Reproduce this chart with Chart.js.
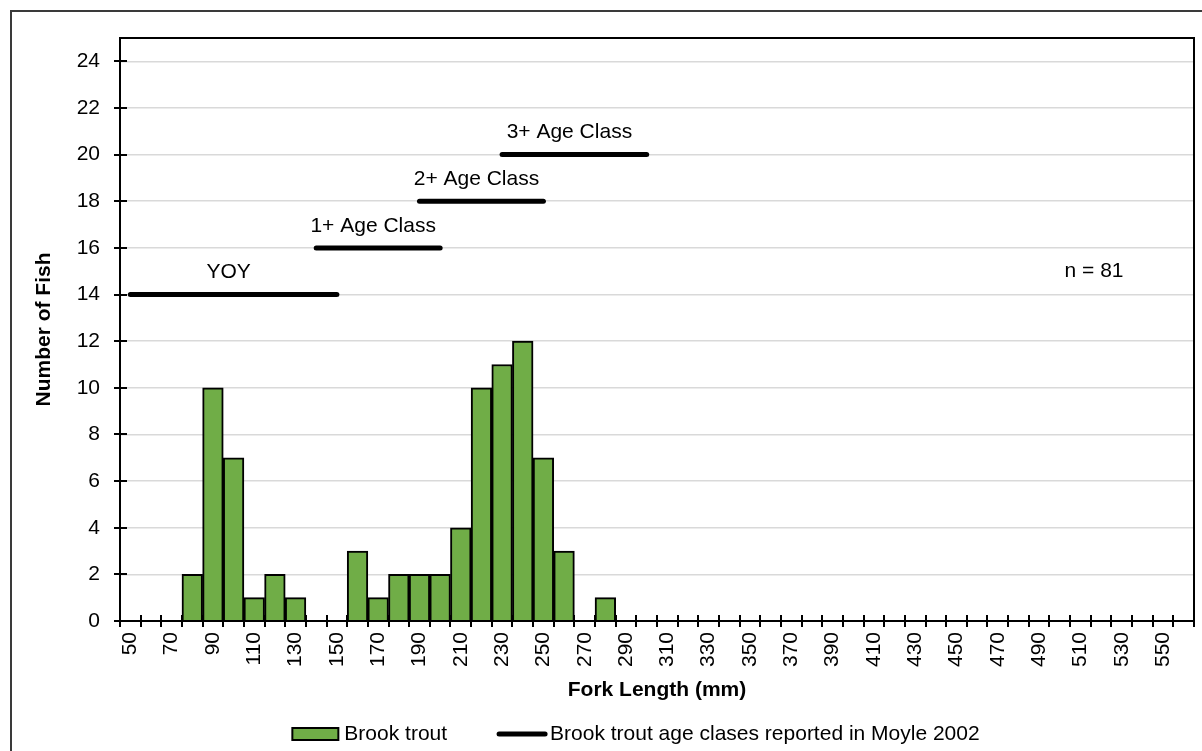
<!DOCTYPE html>
<html>
<head>
<meta charset="utf-8">
<script src="https://cdn.jsdelivr.net/npm/chart.js@4.4.1/dist/chart.umd.min.js"></script>
<style>
  html, body { margin: 0; padding: 0; background: #fff; overflow: hidden; }
  #wrap { position: relative; width: 1202px; height: 751px; }
</style>
</head>
<body>
<div id="wrap"><canvas id="chart"></canvas></div>
<script>
// Fork length bins (mm)
const lengthBins = ['50', '60', '70', '80', '90', '100', '110', '120', '130', '140',
  '150', '160', '170', '180', '190', '200', '210', '220', '230', '240',
  '250', '260', '270', '280', '290', '300', '310', '320', '330', '340',
  '350', '360', '370', '380', '390', '400', '410', '420', '430', '440',
  '450', '460', '470', '480', '490', '500', '510', '520', '530', '540',
  '550', '560'];

// Number of brook trout in each bin
const brookTroutCounts = [0, 0, 0, 2, 10, 7, 1, 2, 1, 0,
  0, 3, 1, 2, 2, 2, 4, 10, 11, 12,
  7, 3, 0, 1, 0, 0, 0, 0, 0, 0,
  0, 0, 0, 0, 0, 0, 0, 0, 0, 0,
  0, 0, 0, 0, 0, 0, 0, 0, 0, 0,
  0, 0];

// Age classes reported in Moyle 2002
const ageClassNames = ['YOY', '1+ Age Class', '2+ Age Class', '3+ Age Class'];
const ageClassFrom = ['50', '140', '190', '230'];
const ageClassTo = ['150', '200', '250', '300'];
const ageClassLevel = [14, 16, 18, 20];

const yTicks = [0, 2, 4, 6, 8, 10, 12, 14, 16, 18, 20, 22, 24];
const sampleNote = 'n = 81';

const FONT = "'Liberation Sans', Arial, sans-serif";
const BAR_GREEN = '#70AD47';

const ageDatasets = ageClassNames.map((name, i) => ({
  type: 'line',
  label: 'Brook trout age clases reported in Moyle 2002',
  data: [{ x: ageClassFrom[i], y: ageClassLevel[i] }, { x: ageClassTo[i], y: ageClassLevel[i] }],
  borderColor: '#000',
  borderWidth: 5,
  borderCapStyle: 'round',
  pointRadius: 0,
  fill: false,
  order: 0
}));

// frame, crossing tick marks, text labels and legend
const decorations = {
  id: 'decorations',
  beforeDraw(chart) {
    const ctx = chart.ctx;
    ctx.save();
    ctx.strokeStyle = '#3a3a3a';
    ctx.lineWidth = 2;
    ctx.beginPath();
    ctx.moveTo(11, chart.height);
    ctx.lineTo(11, 11);
    ctx.lineTo(chart.width, 11);
    ctx.stroke();
    ctx.restore();
  },
  afterDraw(chart) {
    const ctx = chart.ctx;
    const area = chart.chartArea;
    const xs = chart.scales.x;
    const ys = chart.scales.y;
    ctx.save();

    // plot frame
    ctx.strokeStyle = '#000';
    ctx.lineWidth = 2;
    ctx.strokeRect(area.left, area.top, area.right - area.left, area.bottom - area.top);

    // y ticks
    yTicks.forEach(v => {
      const y = Math.round(ys.getPixelForValue(v));
      ctx.beginPath();
      ctx.moveTo(area.left - 6, y);
      ctx.lineTo(area.left + 7, y);
      ctx.stroke();
    });

    // x ticks at bin boundaries
    const half = (xs.getPixelForValue(1) - xs.getPixelForValue(0)) / 2;
    for (let i = 0; i <= lengthBins.length; i++) {
      const x = Math.round(xs.getPixelForValue(i) - half);
      ctx.beginPath();
      ctx.moveTo(x, area.bottom - 6);
      ctx.lineTo(x, area.bottom + 6);
      ctx.stroke();
    }

    // age class names
    ctx.fillStyle = '#000';
    ctx.font = '21px ' + FONT;
    ctx.textAlign = 'center';
    ctx.textBaseline = 'middle';
    ageClassNames.forEach((name, i) => {
      const x = (xs.getPixelForValue(lengthBins.indexOf(ageClassFrom[i])) +
                 xs.getPixelForValue(lengthBins.indexOf(ageClassTo[i]))) / 2 - 5;
      const y = ys.getPixelForValue(ageClassLevel[i]) - 22;
      ctx.fillText(name, x, y);
    });
    ctx.fillText(sampleNote, area.right - 100, ys.getPixelForValue(15));

    // legend
    const bar = chart.data.datasets[0];
    const line = chart.data.datasets[1];
    const ly = 734;
    ctx.textAlign = 'left';
    const w1 = ctx.measureText(bar.label).width;
    const w2 = ctx.measureText(line.label).width;
    const total = 46 + 6 + w1 + 50 + 50 + 3 + w2;
    let lx = (area.left + area.right) / 2 - 21 - total / 2;
    ctx.fillStyle = bar.backgroundColor;
    ctx.fillRect(lx, ly - 6, 46, 12);
    ctx.strokeStyle = '#000';
    ctx.lineWidth = 2;
    ctx.strokeRect(lx, ly - 6, 46, 12);
    lx += 52;
    ctx.fillStyle = '#000';
    ctx.fillText(bar.label, lx, ly);
    lx += w1 + 50;
    ctx.lineWidth = 5;
    ctx.lineCap = 'round';
    ctx.beginPath();
    ctx.moveTo(lx + 2, ly);
    ctx.lineTo(lx + 48, ly);
    ctx.stroke();
    ctx.fillText(line.label, lx + 53, ly);

    ctx.restore();
  }
};

new Chart(document.getElementById('chart'), {
  type: 'bar',
  data: {
    labels: lengthBins,
    datasets: [{
      label: 'Brook trout',
      data: brookTroutCounts,
      backgroundColor: BAR_GREEN,
      borderColor: '#000',
      borderWidth: 2,
      barPercentage: 1,
      categoryPercentage: 1,
      order: 1
    }].concat(ageDatasets)
  },
  options: {
    responsive: true,
    maintainAspectRatio: false,
    animation: false,
    events: [],
    layout: { padding: { top: 38, right: 8, bottom: 45, left: 0 } },
    plugins: {
      legend: { display: false },
      tooltip: { enabled: false }
    },
    scales: {
      x: {
        type: 'category',
        offset: true,
        grid: { display: false, drawTicks: false, offset: true },
        border: { display: false },
        ticks: {
          autoSkip: false,
          minRotation: 90,
          maxRotation: 90,
          padding: 11,
          color: '#000',
          font: { family: FONT, size: 21 },
          callback: function (value, index) {
            return index % 2 === 0 ? this.getLabelForValue(value) : '';
          }
        },
        title: {
          display: true,
          text: 'Fork Length (mm)',
          color: '#000',
          font: { family: FONT, size: 21, weight: 'bold' },
          padding: { top: 0, bottom: 3 }
        },
        afterFit(scale) {
          scale.height = 85;
          scale.paddingLeft = 0;
          scale.paddingRight = 0;
        }
      },
      y: {
        min: 0,
        max: 25,
        grid: { color: '#d9d9d9', lineWidth: 1.5, drawTicks: false },
        border: { display: false },
        ticks: {
          stepSize: 2,
          includeBounds: false,
          padding: 20,
          color: '#000',
          font: { family: FONT, size: 21 }
        },
        title: {
          display: true,
          text: 'Number of Fish',
          color: '#000',
          font: { family: FONT, size: 21, weight: 'bold' },
          padding: { top: 32, bottom: 0 }
        },
        afterFit(scale) {
          scale.width = 120;
          scale.paddingTop = 0;
          scale.paddingBottom = 0;
        }
      }
    }
  },
  plugins: [decorations]
});
</script>
</body>
</html>
